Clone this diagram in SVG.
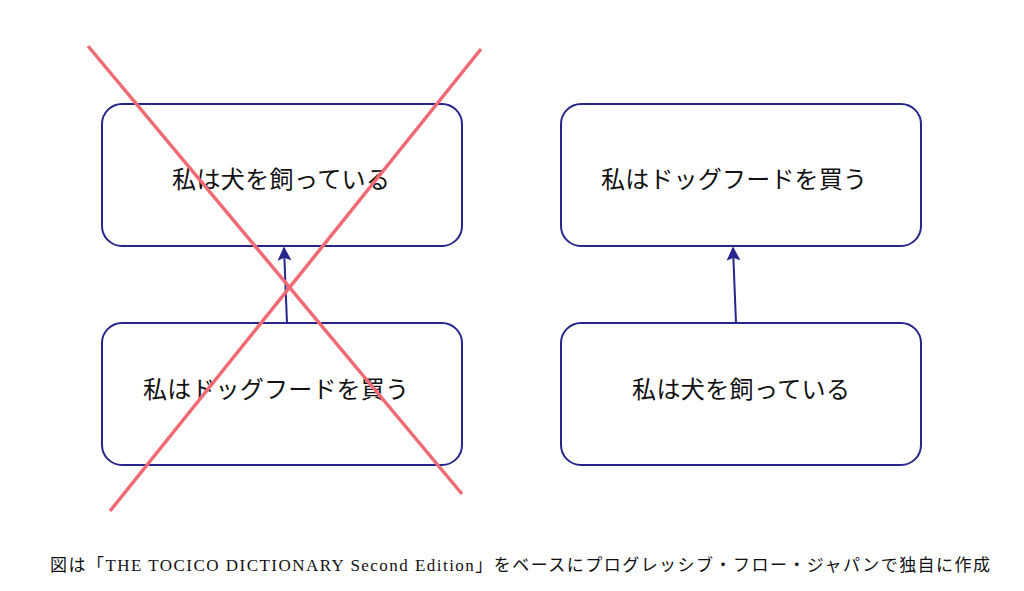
<svg xmlns="http://www.w3.org/2000/svg" width="1024" height="591" viewBox="0 0 1024 591">
<style>
.box{fill:#fff;stroke:#26268c;stroke-width:2}
.t{font-family:"Liberation Serif","Noto Sans CJK JP",serif;font-size:24px;fill:#111;text-anchor:middle;dominant-baseline:central}
.c{font-family:"Liberation Serif","Noto Sans CJK JP",serif;font-size:17px;fill:#111;text-anchor:middle;dominant-baseline:central}
.a{stroke:#26268c;stroke-width:2;fill:none;marker-end:url(#ah)}
.x{stroke:#f06a74;stroke-width:3.5}
</style>
<defs><marker id="ah" viewBox="0 0 10 10" refX="9" refY="5" markerWidth="16" markerHeight="14" markerUnits="userSpaceOnUse" orient="auto"><path d="M0,0L10,5L0,10L2,5Z" fill="#26268c"/></marker></defs>
<rect width="1024" height="591" fill="#fff"/>
<g id="n1"><rect class="box" x="102" y="104" width="360" height="142" rx="20"/><text class="t" x="281" y="180" textLength="218">私は犬を飼っている</text></g>
<g id="n2"><rect class="box" x="102" y="323" width="360" height="142" rx="20"/><text class="t" x="276" y="390" textLength="266">私はドッグフードを買う</text></g>
<g id="n3"><rect class="box" x="561" y="104" width="360" height="142" rx="20"/><text class="t" x="734" y="180" textLength="266">私はドッグフードを買う</text></g>
<g id="n4"><rect class="box" x="561" y="323" width="360" height="142" rx="20"/><text class="t" x="741" y="390" textLength="218">私は犬を飼っている</text></g>
<g id="connectors"><path class="a" d="M287,323L284,248"/><path class="a" d="M736,323L733,248"/></g>
<g id="cross"><line class="x" x1="88" y1="46" x2="462" y2="494"/><line class="x" x1="481" y1="49" x2="110" y2="511"/></g>
<text class="c" x="520" y="565" textLength="940">図は「THE TOCICO DICTIONARY Second Edition」をベースにプログレッシブ・フロー・ジャパンで独自に作成</text>
</svg>
